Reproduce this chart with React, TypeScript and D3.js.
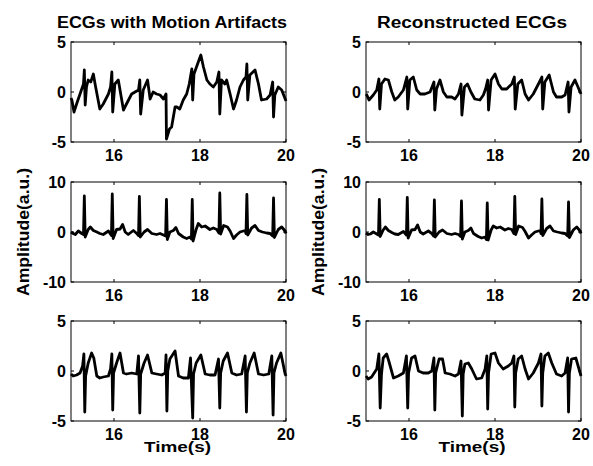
import * as d3 from 'd3';

// time (s), amplitude (a.u.) pairs
const noisyTop: [number, number][] = [
  [15.0, -0.6], [15.02, -0.8], [15.07, -2.0], [15.13, -1.2], [15.21, -0.2], [15.29, 0.8], [15.31, 2.2], [15.33, -1.3],
  [15.36, 0.5], [15.4, 1.2], [15.46, 1.0], [15.52, 1.8], [15.56, 0.8], [15.67, -1.7], [15.75, -1.2], [15.87, -0.2],
  [15.92, 0.5], [15.95, 2.0], [15.97, -2.0], [16.02, 0.8], [16.1, 1.2], [16.14, 0.2], [16.22, -1.8], [16.29, -1.2],
  [16.41, -0.2], [16.49, 0.0], [16.57, 0.2], [16.6, 1.2], [16.62, -2.2], [16.68, 0.2], [16.78, 1.2], [16.84, -0.7],
  [16.91, 0.0], [16.99, -0.2], [17.07, -0.3], [17.15, -0.7], [17.21, -0.2], [17.22, -4.7], [17.29, -3.7], [17.34, -3.5],
  [17.42, -1.5], [17.46, -1.5], [17.53, -1.7], [17.61, -0.8], [17.69, -0.2], [17.75, 0.8], [17.81, 2.3], [17.83, -0.8],
  [17.86, 1.8], [17.96, 3.0], [18.02, 3.7], [18.08, 2.5], [18.16, 1.2], [18.23, 0.8], [18.31, 0.5], [18.39, 1.0],
  [18.44, 2.0], [18.46, -2.2], [18.5, 1.2], [18.58, 0.8], [18.62, 1.2], [18.7, -0.2], [18.78, -1.7], [18.85, -0.8],
  [18.93, 0.5], [19.01, 1.2], [19.07, 1.5], [19.09, 2.8], [19.11, -0.8], [19.16, 1.7], [19.28, 2.2], [19.36, 0.8],
  [19.43, -0.8], [19.55, -0.7], [19.63, -0.3], [19.69, 1.0], [19.71, -2.5], [19.74, -0.3], [19.82, 0.5], [19.9, 0.2],
  [20.0, -0.9],
];

const cleanTop: [number, number][] = [
  [15.0, -0.2], [15.02, -0.3], [15.07, -0.8], [15.17, -0.3], [15.25, 0.2], [15.3, 1.3], [15.32, -1.7], [15.36, 0.8],
  [15.44, 1.3], [15.52, 1.2], [15.6, 0.0], [15.67, -0.8], [15.75, -0.5], [15.87, 0.2], [15.95, 1.5], [15.97, -1.7],
  [16.02, 1.2], [16.1, 1.5], [16.18, 0.2], [16.26, -0.2], [16.37, -0.2], [16.49, 0.0], [16.58, 1.0], [16.6, -1.8],
  [16.64, 0.3], [16.72, 1.2], [16.8, 0.0], [16.88, -0.5], [16.99, -0.5], [17.07, -0.7], [17.15, -0.2], [17.21, 0.8],
  [17.23, -2.3], [17.29, 0.5], [17.36, 0.8], [17.44, 0.0], [17.53, -0.7], [17.65, -0.8], [17.73, -0.3], [17.78, 0.3],
  [17.83, 1.2], [17.85, -1.8], [17.91, 1.2], [18.0, 1.8], [18.08, 0.8], [18.16, 0.3], [18.27, 0.3], [18.39, 0.8],
  [18.45, 1.5], [18.47, -1.7], [18.53, 0.8], [18.62, 1.2], [18.7, -0.2], [18.78, -0.8], [18.89, -0.2], [19.01, 0.8],
  [19.09, 1.5], [19.11, -1.7], [19.16, 1.0], [19.26, 1.7], [19.36, 0.0], [19.43, -0.5], [19.55, -0.5], [19.63, -0.3],
  [19.7, 1.0], [19.72, -2.0], [19.77, 0.5], [19.86, 1.2], [20.0, -0.2],
];

const noisyMid: [number, number][] = [
  [15.0, 0.0], [15.05, -0.3], [15.1, -0.5], [15.17, 0.2], [15.25, -0.3], [15.29, -0.5], [15.31, 7.2], [15.33, -1.0],
  [15.4, 0.5], [15.45, 1.0], [15.52, 0.3], [15.6, 0.0], [15.67, -0.3], [15.75, -0.5], [15.87, 0.2], [15.94, -0.7],
  [15.96, 7.6], [15.98, -1.3], [16.06, 0.5], [16.14, 0.6], [16.2, 1.5], [16.26, 0.0], [16.33, -0.5], [16.45, 0.3],
  [16.53, -0.3], [16.57, -0.7], [16.59, 7.1], [16.61, -1.0], [16.7, 0.0], [16.78, 0.5], [16.88, -0.3], [16.99, -0.5],
  [17.07, -0.3], [17.15, -0.6], [17.2, -0.8], [17.22, 6.5], [17.24, -1.5], [17.3, 0.0], [17.38, 0.3], [17.44, 0.9],
  [17.5, -0.3], [17.61, -1.0], [17.69, -1.3], [17.77, -1.0], [17.8, -1.4], [17.82, 6.5], [17.84, -1.8], [17.91, 0.5],
  [17.96, 1.7], [18.04, 1.0], [18.12, 1.2], [18.23, 0.5], [18.31, 0.8], [18.39, 0.5], [18.44, -0.2], [18.46, 7.8],
  [18.48, -0.4], [18.55, 1.3], [18.64, 1.0], [18.7, 0.2], [18.78, -1.3], [18.85, -0.6], [18.93, 0.0], [19.05, 0.3],
  [19.07, -0.3], [19.09, 7.5], [19.11, -0.6], [19.2, 0.8], [19.28, 1.3], [19.36, 0.3], [19.45, 0.0], [19.55, -0.2],
  [19.63, -0.3], [19.69, -0.8], [19.71, 6.8], [19.73, -1.1], [19.82, 0.5], [19.9, 1.0], [19.98, 0.2], [20.0, -0.3],
];

const cleanMid: [number, number][] = [
  [15.0, -0.2], [15.05, -0.5], [15.1, -0.4], [15.17, 0.0], [15.25, -0.4], [15.29, -0.6], [15.31, 6.5], [15.33, -0.9],
  [15.4, 0.4], [15.45, 1.0], [15.52, 0.3], [15.6, -0.1], [15.67, -0.4], [15.75, -0.5], [15.87, 0.1], [15.94, -0.6],
  [15.96, 6.9], [15.98, -1.2], [16.06, 0.4], [16.14, 0.5], [16.2, 1.4], [16.26, 0.0], [16.33, -0.4], [16.45, 0.2],
  [16.53, -0.3], [16.57, -0.8], [16.59, 6.4], [16.61, -1.0], [16.7, 0.0], [16.78, 0.4], [16.88, -0.3], [16.99, -0.5],
  [17.07, -0.3], [17.15, -0.5], [17.2, -0.9], [17.22, 6.2], [17.24, -1.4], [17.3, 0.0], [17.38, 0.3], [17.44, 0.8],
  [17.5, -0.3], [17.61, -0.9], [17.69, -1.2], [17.77, -1.0], [17.8, -1.5], [17.82, 5.8], [17.84, -1.6], [17.91, 0.4],
  [17.96, 1.2], [18.04, 0.8], [18.12, 1.0], [18.23, 0.4], [18.31, 0.7], [18.39, 0.5], [18.44, -0.3], [18.46, 7.1],
  [18.48, -0.5], [18.55, 1.2], [18.64, 0.9], [18.7, 0.1], [18.78, -1.2], [18.85, -0.6], [18.93, 0.0], [19.05, 0.3],
  [19.07, -0.3], [19.09, 6.6], [19.11, -0.7], [19.2, 0.7], [19.28, 1.2], [19.36, 0.2], [19.45, 0.0], [19.55, -0.2],
  [19.63, -0.3], [19.69, -0.8], [19.71, 6.0], [19.73, -1.1], [19.82, 0.4], [19.9, 1.0], [19.98, 0.2], [20.0, -0.3],
];

const noisyBot: [number, number][] = [
  [15.0, -0.3], [15.05, -0.5], [15.13, -0.4], [15.21, -0.2], [15.27, 0.5], [15.3, 1.7], [15.32, -4.1], [15.34, -0.5],
  [15.4, 0.8], [15.48, 1.8], [15.53, 1.3], [15.6, -0.5], [15.67, -0.7], [15.75, -0.6], [15.87, -0.5], [15.92, 0.2],
  [15.95, 1.7], [15.97, -3.9], [15.99, -0.2], [16.06, 0.8], [16.14, 1.8], [16.22, -0.2], [16.29, -0.3], [16.41, -0.2],
  [16.53, -0.3], [16.57, 1.5], [16.6, -4.2], [16.62, -0.3], [16.7, 0.8], [16.78, 1.6], [16.88, -0.2], [16.99, -0.3],
  [17.11, -0.4], [17.19, -0.2], [17.21, 1.6], [17.23, -4.0], [17.25, 0.0], [17.3, 1.2], [17.42, 2.0], [17.5, -0.5],
  [17.61, -0.7], [17.73, -0.7], [17.78, 1.3], [17.83, -4.7], [17.85, -0.3], [17.91, 0.8], [18.02, 1.6], [18.12, -0.3],
  [18.23, -0.4], [18.35, -0.4], [18.43, 1.2], [18.46, -3.7], [18.48, -0.2], [18.54, 1.0], [18.64, 1.8], [18.74, -0.2],
  [18.85, -0.4], [18.97, -0.3], [19.05, 1.5], [19.08, -4.1], [19.1, -0.2], [19.16, 0.8], [19.26, 1.8], [19.36, -0.3],
  [19.48, -0.4], [19.6, -0.3], [19.67, 1.5], [19.7, -4.4], [19.72, -0.2], [19.78, 0.8], [19.88, 1.8], [19.98, -0.3],
  [20.0, -0.5],
];

const cleanBot: [number, number][] = [
  [15.0, -0.5], [15.05, -0.8], [15.13, -0.6], [15.25, 0.2], [15.3, 1.7], [15.33, -3.7], [15.36, -0.3], [15.4, 1.3],
  [15.48, 1.7], [15.53, 1.0], [15.64, -0.7], [15.75, -0.5], [15.87, -0.2], [15.94, 1.5], [15.97, -3.7], [15.99, -0.2],
  [16.06, 1.3], [16.14, 1.5], [16.22, 0.0], [16.33, -0.2], [16.45, -0.2], [16.53, 0.0], [16.58, 1.3], [16.6, -3.9],
  [16.62, -0.2], [16.7, 1.2], [16.78, 1.2], [16.84, -0.2], [16.95, -0.3], [17.07, -0.5], [17.15, -0.3], [17.21, 1.0],
  [17.24, -4.5], [17.26, -0.3], [17.3, 0.7], [17.38, 0.8], [17.46, 0.2], [17.57, -0.8], [17.69, -0.7], [17.77, 0.2],
  [17.81, 1.5], [17.83, -3.8], [17.85, -0.2], [17.91, 1.7], [18.0, 1.8], [18.08, 0.8], [18.19, 0.2], [18.31, 0.5],
  [18.39, 0.8], [18.44, 1.5], [18.46, -3.6], [18.48, -0.2], [18.54, 1.2], [18.62, 1.5], [18.7, 0.2], [18.78, -0.8],
  [18.89, -0.2], [19.01, 0.8], [19.07, 1.7], [19.09, -3.5], [19.11, -0.2], [19.16, 1.5], [19.24, 1.8], [19.32, 0.8],
  [19.43, -0.3], [19.55, -0.5], [19.63, -0.2], [19.69, 1.3], [19.71, -4.1], [19.73, -0.2], [19.78, 1.2], [19.88, 1.3],
  [19.98, -0.2], [20.0, -0.5],
];

const xTicks = [16, 18, 20];
const yTicksSmall = [-5, 0, 5];
const yTicksBig = [-10, 0, 10];
const titles = ['ECGs with Motion Artifacts', 'Reconstructed ECGs'];

const W = 593;
const H = 466;
const colX = [71, 366];
const rowY = [42, 182, 321];
const pw = 215;
const ph = 100;
const font = 'Liberation Sans, Arial, sans-serif';

const panels = [
  { col: 0, row: 0, data: noisyTop, yTicks: yTicksSmall },
  { col: 1, row: 0, data: cleanTop, yTicks: yTicksSmall },
  { col: 0, row: 1, data: noisyMid, yTicks: yTicksBig },
  { col: 1, row: 1, data: cleanMid, yTicks: yTicksBig },
  { col: 0, row: 2, data: noisyBot, yTicks: yTicksSmall },
  { col: 1, row: 2, data: cleanBot, yTicks: yTicksSmall },
];

const Panel = ({ col, row, data, yTicks }: { col: number; row: number; data: [number, number][]; yTicks: number[] }) => {
  const left = colX[col];
  const top = rowY[row];
  const x = d3.scaleLinear().domain([15, 20]).range([left, left + pw]);
  const y = d3.scaleLinear().domain([yTicks[0], yTicks[2]]).range([top + ph, top]);
  const line = d3.line<[number, number]>().x(d => x(d[0])).y(d => y(d[1]));
  const tk = 3;
  return (
    <g>
      <path d={line(data) ?? ''} fill="none" stroke="#000" strokeWidth={2.8} strokeLinejoin="round" />
      <rect x={left} y={top} width={pw} height={ph} fill="none" stroke="#000" strokeWidth={1} />
      {xTicks.map(t => (
        <g key={t}>
          <line x1={x(t)} x2={x(t)} y1={top + ph} y2={top + ph - tk} stroke="#000" />
          <line x1={x(t)} x2={x(t)} y1={top} y2={top + tk} stroke="#000" />
          <text x={x(t)} y={top + ph + 19} textAnchor="middle" fontSize={16} fontWeight="bold" fontFamily={font}>{t}</text>
        </g>
      ))}
      {yTicks.map(t => (
        <g key={t}>
          <line x1={left} x2={left + tk} y1={y(t)} y2={y(t)} stroke="#000" />
          <line x1={left + pw} x2={left + pw - tk} y1={y(t)} y2={y(t)} stroke="#000" />
          <text x={left - 5} y={y(t) + 5.6} textAnchor="end" fontSize={16} fontWeight="bold" fontFamily={font}>{t}</text>
        </g>
      ))}
    </g>
  );
};

const titleX = [172, 472];
const titleLen = [230, 190];
const timeX = [177.5, 472];

export default function App() {
  return (
    <svg width={W} height={H} style={{ position: 'absolute', left: 0, top: 0, background: '#fff' }}>
      <rect width={W} height={H} fill="#fff" />
      {titles.map((t, i) => (
        <text key={t} x={titleX[i]} y={28} textAnchor="middle" fontSize={16} fontWeight="bold" fontFamily={font}
          textLength={titleLen[i]} lengthAdjust="spacingAndGlyphs">{t}</text>
      ))}
      {panels.map((p, i) => <Panel key={i} {...p} />)}
      {colX.map((cx, i) => (
        <g key={i}>
          <text
            transform={`translate(${cx - 42.5},${rowY[1] + ph / 2}) rotate(-90)`}
            textAnchor="middle"
            fontSize={16}
            fontWeight="bold"
            fontFamily={font}
            textLength={128}
            lengthAdjust="spacingAndGlyphs"
          >Amplitude(a.u.)</text>
          <text x={timeX[i]} y={452} textAnchor="middle" fontSize={15} fontWeight="bold" fontFamily={font}
            textLength={67} lengthAdjust="spacingAndGlyphs">Time(s)</text>
        </g>
      ))}
    </svg>
  );
}
